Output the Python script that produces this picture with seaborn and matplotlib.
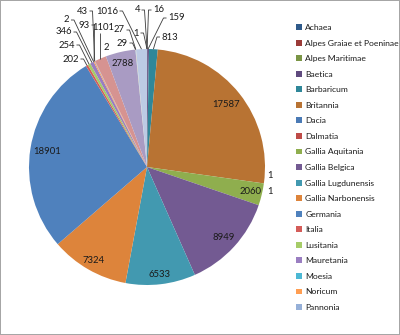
import matplotlib
matplotlib.use("Agg")
import matplotlib.pyplot as plt
import seaborn as sns
import numpy as np

# Finds per province
provinces = [
    "Achaea", "Alpes Graiae et Poeninae", "Alpes Maritimae", "Baetica",
    "Barbaricum", "Britannia", "Dacia", "Dalmatia", "Gallia Aquitania",
    "Gallia Belgica", "Gallia Lugdunensis", "Gallia Narbonensis", "Germania",
    "Italia", "Lusitania", "Mauretania", "Moesia", "Noricum", "Pannonia",
    "Raetia", "Sardinia", "Sicilia", "Syria", "Tarraconensis", "Thracia",
]
counts = [
    1, 4, 16, 159, 813, 17587, 1, 1, 2060, 8949, 6533, 7324, 18901,
    202, 254, 346, 2, 93, 43, 1101, 2, 2788, 29, 27, 1016,
]
slice_colors = [
    "#2F5A8A", "#9B3B38", "#7A9545", "#5F4A7E", "#2F8799", "#B87333",
    "#4A7AB5", "#BE4B48", "#8FAE4E", "#735A92", "#4299B0", "#DD843B",
    "#4F81BD", "#D45C59", "#A6CC68", "#9A7EC1", "#4CB8D4", "#FF9E52",
    "#96B0D8", "#D69391", "#C3D69B", "#A99BC3", "#93CDDD", "#FAC090",
    "#BCCBE4",
]
legend_count = 19  # the legend box only has room for the first entries

sns.set_style("white")
plt.rcParams["font.family"] = ["Lato", "DejaVu Sans"]

W, H = 400, 335
fig = plt.figure(figsize=(W / 100, H / 100), dpi=100,
                 edgecolor="#A6A6A6", linewidth=1.2)
ax = fig.add_axes([0, 0, 1, 1])


def px(x, y):
    """Pixel position (origin top-left) to data coordinates."""
    return x, H - y


palette = sns.color_palette(slice_colors)
center = px(147, 167)
radius = 118
wedges, _ = ax.pie(counts, colors=palette, startangle=90, counterclock=False,
                   center=center, radius=radius,
                   wedgeprops=dict(linewidth=0))
ax.set_xlim(0, W)
ax.set_ylim(0, H)
ax.set_aspect("equal", adjustable="box")
ax.axis("off")

txt_kw = dict(fontsize=6.8, color="#1A1A1A", va="center")
line_kw = dict(color="#3A3A3A", lw=0.6, solid_capstyle="butt")


def mid_point(w, frac=1.0):
    ang = np.deg2rad((w.theta1 + w.theta2) / 2)
    cx, cy = w.center
    return cx + frac * w.r * np.cos(ang), cy + frac * w.r * np.sin(ang)


# labels drawn inside the larger slices (radial fraction)
inside = {
    "Britannia": 0.85, "Gallia Aquitania": 0.9, "Gallia Belgica": 0.88,
    "Gallia Lugdunensis": 0.92, "Gallia Narbonensis": 0.91,
    "Germania": 0.86, "Sicilia": 0.9,
}
# labels set outside the pie: text anchor (px), alignment, leader style
outside = {
    "Italia": (79, 59, "right", "r"),
    "Lusitania": (75, 45, "right", "r"),
    "Mauretania": (72, 32, "right", "r"),
    "Moesia": (69.5, 20, "right", "r"),
    "Noricum": (90, 25, "right", "r"),
    "Pannonia": (88, 11, "right", "r"),
    "Raetia": (103, 27, "center", "b"),
    "Sardinia": (106, 48, "center", None),
    "Syria": (128, 43, "right", "r"),
    "Tarraconensis": (125, 30, "right", "r"),
    "Thracia": (118, 11, "right", "r"),
    "Achaea": (139, 33, "right", "r"),
    "Alpes Graiae et Poeninae": (140, 10, "right", "r"),
    "Alpes Maritimae": (153, 10, "left", "l"),
    "Baetica": (168, 18, "left", "l"),
    "Barbaricum": (161.5, 37, "left", "l"),
    "Dacia": (267, 175, "left", None),
    "Dalmatia": (267, 191, "left", None),
}

for name, value, w in zip(provinces, counts, wedges):
    label = f"{value}"
    if name in inside:
        x, y = mid_point(w, inside[name])
        ax.text(x, y, label, ha="center", **txt_kw)
        continue
    tx, ty, ha, leader = outside[name]
    ax.text(*px(tx, ty), label, ha=ha, **txt_kw)
    ex, ey = mid_point(w)
    if leader == "r":
        sx, sy = px(tx + 1.5, ty)
        dx, dy = px(tx + 4.5, ty)
        ax.plot([sx, dx, ex], [sy, dy, ey], **line_kw)
    elif leader == "l":
        sx, sy = px(tx - 1.5, ty)
        dx, dy = px(tx - 4.5, ty)
        ax.plot([sx, dx, ex], [sy, dy, ey], **line_kw)
    elif leader == "b":
        sx, sy = ex, px(0, ty + 6)[1]
        ax.plot([sx, ex], [sy, ey], **line_kw)

leg = ax.legend(wedges[:legend_count], provinces[:legend_count],
                loc="upper left", bbox_to_anchor=(296 / W, 1 - 24 / H),
                bbox_transform=fig.transFigure, frameon=False,
                fontsize=6.1, borderpad=0, borderaxespad=0,
                handlelength=0.7, handleheight=0.7, handletextpad=0.4,
                labelspacing=1.01)
for t in leg.get_texts():
    t.set_color("#1A1A1A")

fig.savefig("out.png", dpi=100, edgecolor=fig.get_edgecolor())
